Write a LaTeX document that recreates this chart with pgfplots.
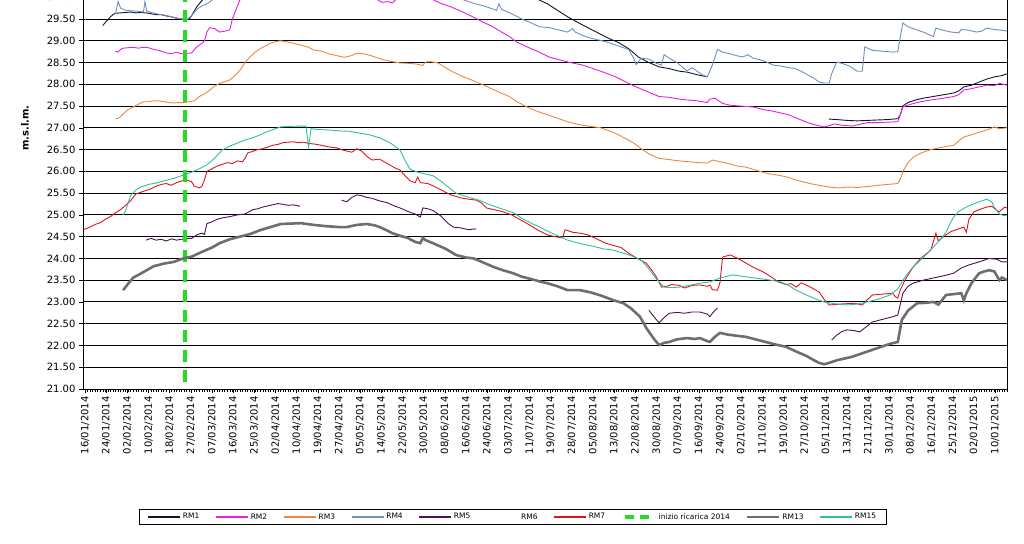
\documentclass[border=0pt]{standalone}
\usepackage{pgfplots}
\pgfplotsset{compat=1.18}
\usepackage{fontspec}
\setmainfont{DejaVu Sans}
\definecolor{rmone}{HTML}{14142E}
\definecolor{rmtwo}{HTML}{E81CE8}
\definecolor{rmthree}{HTML}{EE8840}
\definecolor{rmfour}{HTML}{6E8FBF}
\definecolor{rmfive}{HTML}{4A1450}
\definecolor{rmseven}{HTML}{E0141E}
\definecolor{rmthirteen}{HTML}{6E6E6E}
\definecolor{rmfifteen}{HTML}{2EC0A0}
\definecolor{ricarica}{HTML}{22DD22}
\begin{document}
\begin{tikzpicture}
\begin{axis}[
  at={(0pt,0pt)}, anchor=south west,
  scale only axis,
  width=924pt, height=435.3pt,
  xmin=-0.8, xmax=363, ymin=21, ymax=31,
  unbounded coords=jump,
  axis line style={black, line width=0.8pt},
  ytick={21,21.5,...,30.01},
  yticklabel style={/pgf/number format/.cd, fixed, fixed zerofill, precision=2},
  /pgf/number format/assume math mode=true,
  ymajorgrids,
  major grid style={black, line width=0.9pt},
  xtick={0,8.3333,...,358.5},
  xticklabels={16/01/2014,24/01/2014,02/02/2014,10/02/2014,18/02/2014,27/02/2014,07/03/2014,16/03/2014,25/03/2014,02/04/2014,10/04/2014,19/04/2014,27/04/2014,05/05/2014,14/05/2014,22/05/2014,30/05/2014,08/06/2014,16/06/2014,24/06/2014,03/07/2014,11/07/2014,19/07/2014,28/07/2014,05/08/2014,13/08/2014,22/08/2014,30/08/2014,07/09/2014,16/09/2014,24/09/2014,02/10/2014,11/10/2014,19/10/2014,27/10/2014,05/11/2014,13/11/2014,21/11/2014,30/11/2014,08/12/2014,16/12/2014,25/12/2014,02/01/2015,10/01/2015},
  minor xtick={0,1,...,363},
  xticklabel style={rotate=90, anchor=east},
  tick label style={font=\fontsize{10}{12}\selectfont},
  tick align=outside,
  major tick length=4pt, minor tick length=3pt,
  tick style={black, line width=0.6pt},
  xtick pos=bottom, ytick pos=left,
  ylabel={\textbf{m.s.l.m.}},
  ylabel style={at={(axis description cs:-0.0628,0.5996)}, anchor=center, font=\fontsize{10}{12}\selectfont},
  legend columns=10,
  legend image code/.code={\draw[#1] (0pt,0pt) -- (32pt,0pt);},
  legend style={at={(axis description cs:0.4654,-0.294)}, anchor=center, draw=black, line width=0.8pt,
    font=\fontsize{7.5}{9}\selectfont, inner xsep=8pt, inner ysep=2pt,
    /tikz/every even column/.append style={column sep=14pt}},
]
% RM1
\addplot[draw=rmone, line width=0.9pt, legend image post style={line width=1.1pt}] coordinates {
(7,29.35)(8,29.42)(9,29.48)(10,29.55)(11,29.6)(12,29.63)(14,29.64)(16,29.65)(18,29.66)(20,29.64)(22,29.65)(24,29.64)(26,29.62)(28,29.6)(30,29.6)(32,29.57)(34,29.55)(36,29.52)(38,29.5)(39.5,29.48)(41,29.5)(42,29.58)(43,29.68)(44,29.78)(45,29.85)(46,29.92)(47,29.98)(48,30.1)(50,30.3)
(172,30.2)(178,29.96)(182,29.85)(186,29.7)(190,29.55)(194,29.42)(198,29.3)(202,29.18)(206,29.06)(210,28.96)(214,28.82)(218,28.62)(222,28.5)(226,28.4)(230,28.36)(234,28.3)(237,28.28)(241,28.22)(245,28.17)
(245.5,nan)
(293,27.2)(296,27.19)(300,27.17)(304,27.16)(308,27.17)(312,27.18)(316,27.19)(320,27.21)(321,27.3)(322,27.5)(324,27.58)(327,27.64)(330,27.68)(334,27.72)(338,27.76)(342,27.8)(344,27.85)(346,27.94)(349,27.98)(352,28.05)(355,28.12)(358,28.17)(361,28.2)(363,28.24)
};
\addlegendentry{RM1}
% RM2
\addplot[draw=rmtwo, line width=0.9pt, legend image post style={line width=1.4pt}] coordinates {
(12,28.76)(13,28.74)(14,28.8)(15,28.83)(17,28.84)(19,28.85)(21,28.83)(23,28.85)(25,28.84)(27,28.8)(29,28.78)(31,28.74)(32,28.72)(34,28.7)(36,28.74)(38,28.7)(40,28.71)(42,28.72)(44,28.86)(46,28.94)(47,29.0)(48,29.2)(49,29.3)(51,29.28)(53,29.2)(55,29.22)(57,29.25)(58,29.5)(60,29.8)(61,29.94)(63,30.2)
(112,30.1)(115,29.95)(117,29.88)(119,29.9)(121,29.87)(123,29.98)(126,30.15)(132,30.1)(136,29.97)(140,29.86)(144,29.78)(148,29.68)(152,29.57)(157,29.42)(160,29.34)(164,29.2)(167,29.1)(170,28.97)(174,28.86)(178,28.76)(183,28.62)(187,28.56)(191,28.5)(196,28.44)(200,28.36)(204,28.28)(209,28.17)(213,28.05)(217,27.94)(221,27.84)(226,27.72)(230,27.7)(234,27.66)(237,27.64)(241,27.62)(245,27.58)(246,27.66)(248,27.68)(251,27.56)(254,27.52)(258,27.5)(263,27.48)(267,27.42)(271,27.38)(274,27.34)(277,27.3)(279,27.25)(282,27.18)(285,27.11)(288,27.06)(291,27.02)(293,27.05)(295,27.09)(298,27.06)(302,27.04)(305,27.08)(308,27.12)(312,27.12)(316,27.13)(320,27.14)(321,27.3)(322,27.48)(325,27.54)(329,27.6)(333,27.64)(338,27.68)(342,27.72)(344,27.76)(346,27.87)(349,27.9)(352,27.94)(355,27.98)(358,27.97)(360,28.02)(363,27.98)
};
\addlegendentry{RM2}
% RM3
\addplot[draw=rmthree, line width=0.9pt, legend image post style={line width=1.4pt}] coordinates {
(12,27.2)(13,27.22)(14,27.25)(15,27.32)(17,27.42)(19,27.48)(21,27.54)(23,27.6)(25,27.6)(27,27.62)(29,27.62)(31,27.6)(33,27.58)(35,27.57)(37,27.58)(39,27.58)(41,27.6)(43,27.62)(45,27.72)(47,27.78)(49,27.86)(51,27.96)(53,28.02)(55,28.06)(57,28.1)(59,28.2)(61,28.32)(63,28.5)(65,28.63)(67,28.74)(69,28.82)(71,28.88)(73,28.94)(75,28.98)(77,29.0)(79,28.98)(82,28.94)(85,28.9)(88,28.85)(90,28.79)(93,28.76)(96,28.7)(99,28.66)(102,28.62)(105,28.66)(107,28.71)(110,28.7)(113,28.65)(117,28.57)(120,28.53)(124,28.49)(128,28.48)(131,28.46)(133,28.43)(134,28.51)(136,28.52)(139,28.49)(142,28.38)(145,28.28)(149,28.17)(153,28.08)(157,27.98)(160,27.9)(163,27.82)(167,27.72)(170,27.6)(174,27.48)(178,27.38)(182,27.3)(186,27.22)(190,27.14)(194,27.08)(198,27.04)(203,27.0)(207,26.92)(210,26.84)(213,26.75)(216,26.65)(219,26.52)(222,26.4)(226,26.3)(230,26.27)(234,26.24)(238,26.22)(242,26.2)(245,26.19)(247,26.26)(250,26.22)(254,26.17)(257,26.12)(260,26.1)(264,26.03)(268,25.96)(271,25.93)(274,25.9)(277,25.86)(280,25.8)(284,25.74)(287,25.7)(291,25.66)(294,25.63)(297,25.62)(300,25.64)(304,25.63)(308,25.65)(312,25.68)(316,25.7)(320,25.72)(321,25.82)(322,26.0)(324,26.2)(326,26.32)(329,26.42)(333,26.5)(338,26.56)(342,26.6)(344,26.7)(346,26.79)(349,26.84)(352,26.9)(355,26.95)(358,27.02)(360,26.98)(363,27.0)
};
\addlegendentry{RM3}
% RM4
\addplot[draw=rmfour, line width=0.9pt, legend image post style={line width=1.2pt}] coordinates {
(12,29.62)(13,29.9)(14,29.75)(16,29.7)(20,29.68)(23,29.66)(23.6,29.9)(24.3,29.68)(26,29.65)(28,29.62)(30,29.6)(32,29.58)(34,29.55)(36,29.52)(38,29.5)(40,29.48)(42,29.58)(44,29.72)(46,29.8)(48,29.85)(50,29.93)(52,30.1)(55,30.3)
(145,30.2)(149,29.94)(153,29.86)(157,29.8)(160,29.74)(162,29.7)(163,29.85)(164,29.72)(168,29.62)(172,29.5)(176,29.4)(179,29.32)(183,29.3)(187,29.24)(190,29.2)(192,29.28)(193,29.2)(196,29.12)(199,29.06)(202,29.02)(205,28.98)(209,28.9)(212,28.84)(214,28.8)(216,28.6)(217,28.45)(219,28.6)(222,28.58)(225,28.48)(227,28.44)(228,28.68)(230,28.6)(233,28.5)(237,28.31)(239,28.38)(241,28.3)(243,28.22)(245,28.17)(247,28.44)(249,28.8)(251,28.74)(254,28.7)(257,28.65)(259,28.63)(261,28.68)(263,28.6)(266,28.56)(268,28.52)(271,28.44)(274,28.42)(277,28.38)(279,28.37)(282,28.3)(285,28.2)(287,28.14)(289,28.05)(291,28.03)(293,28.03)(294,28.25)(296,28.51)(298,28.48)(301,28.42)(304,28.3)(306,28.3)(307,28.86)(310,28.78)(314,28.76)(318,28.74)(320,28.75)(321,29.1)(322,29.41)(324,29.32)(327,29.26)(330,29.2)(333,29.12)(334,29.1)(335,29.29)(338,29.24)(341,29.2)(344,29.18)(345,29.26)(348,29.24)(351,29.2)(353,29.22)(355,29.29)(358,29.26)(361,29.24)(363,29.22)
};
\addlegendentry{RM4}
% RM5
\addplot[draw=rmfive, line width=0.9pt, legend image post style={line width=1.1pt}] coordinates {
(24,24.42)(26,24.46)(28,24.42)(30,24.44)(32,24.4)(34,24.45)(36,24.42)(38,24.44)(40,24.46)(42,24.46)(44,24.54)(46,24.58)(47,24.55)(48,24.8)(50,24.84)(52,24.9)(54,24.93)(57,24.96)(60,25.0)(63,25.02)(66,25.12)(68,25.14)(70,25.18)(73,25.22)(76,25.26)(78,25.24)(80,25.22)(82,25.23)(84.6,25.2)
(90,nan)
(101,25.34)(103,25.3)(105,25.4)(107,25.46)(109,25.44)(111,25.4)(113,25.38)(116,25.32)(119,25.28)(122,25.2)(124,25.16)(127,25.08)(130,25.02)(132,24.95)(133,25.16)(135,25.14)(137,25.1)(140,24.98)(143,24.8)(145,24.72)(148,24.7)(151,24.66)(154,24.68)
(160,nan)
(222,22.81)(224,22.66)(226,22.52)(228,22.64)(230,22.74)(233,22.76)(236,22.74)(239,22.77)(242,22.77)(245,22.72)(246,22.66)(247,22.74)(249,22.86)
(260,nan)
(294,22.13)(296,22.24)(298,22.32)(300,22.36)(303,22.34)(305,22.31)(308,22.45)(310,22.54)(314,22.6)(318,22.66)(320,22.7)(321,22.95)(322,23.2)(324,23.36)(326,23.43)(330,23.5)(334,23.55)(338,23.6)(342,23.66)(345,23.78)(348,23.85)(352,23.92)(356,24.0)(359,23.98)(361,23.92)(363,23.92)
};
\addlegendentry{RM5}
\addlegendimage{draw=white}
\addlegendentry{RM6}
% RM7
\addplot[draw=rmseven, line width=0.9pt, legend image post style={line width=1.2pt}] coordinates {
(-1,24.65)(2,24.72)(4,24.78)(6,24.82)(8,24.9)(10,24.96)(12,25.05)(14,25.12)(16,25.22)(18,25.33)(20,25.48)(22,25.52)(24,25.56)(26,25.6)(28,25.66)(30,25.7)(32,25.72)(34,25.68)(36,25.74)(38,25.78)(40,25.8)(42,25.76)(43,25.66)(45,25.62)(46,25.66)(47,25.8)(48,26.0)(50,26.06)(52,26.12)(54,26.16)(56,26.2)(58,26.18)(60,26.24)(62,26.22)(63,26.3)(64,26.42)(66,26.46)(68,26.5)(70,26.52)(72,26.56)(74,26.6)(76,26.62)(78,26.66)(80,26.67)(82,26.68)(84,26.66)(86,26.67)(88,26.64)(90,26.63)(93,26.6)(96,26.56)(99,26.54)(102,26.48)(105,26.44)(107,26.52)(109,26.46)(111,26.34)(113,26.26)(116,26.28)(119,26.18)(122,26.08)(124,26.03)(126,25.9)(128,25.78)(130,25.74)(131,25.87)(132,25.74)(135,25.72)(138,25.64)(141,25.55)(144,25.46)(148,25.39)(151,25.36)(154,25.34)(156,25.28)(158,25.16)(161,25.12)(164,25.08)(168,25.0)(171,24.9)(175,24.77)(178,24.66)(182,24.54)(185,24.5)(188,24.47)(189,24.66)(192,24.6)(195,24.58)(198,24.54)(201,24.46)(205,24.35)(208,24.3)(211,24.25)(214,24.12)(218,23.98)(221,23.89)(223,23.74)(225,23.57)(227,23.34)(229,23.36)(231,23.4)(234,23.38)(236,23.32)(239,23.38)(242,23.39)(245,23.36)(246,23.39)(247,23.28)(249,23.27)(250,23.45)(251,24.03)(254,24.08)(257,24.0)(260,23.9)(263,23.8)(267,23.69)(270,23.58)(273,23.46)(276,23.4)(278,23.42)(280,23.34)(282,23.44)(285,23.36)(289,23.23)(291,23.06)(293,22.93)(297,22.95)(300,22.96)(303,22.97)(306,22.93)(308,23.05)(310,23.16)(314,23.18)(318,23.2)(319,23.12)(320,23.09)(321,23.28)(323,23.52)(326,23.8)(329,24.0)(333,24.19)(335,24.58)(336,24.4)(338,24.5)(341,24.62)(344,24.68)(346,24.72)(347,24.6)(348,24.9)(350,25.07)(353,25.14)(355,25.18)(357,25.2)(359,25.1)(360,25.07)(362,25.18)(363,25.16)
};
\addlegendentry{RM7}
% inizio ricarica
\addplot[draw=ricarica, line width=3.5pt, dash pattern=on 12pt off 8pt, legend image post style={dash pattern=on 9pt off 6pt, dash phase=-2pt}] coordinates {(39.4,21.15)(39.4,31)};
\addlegendentry{inizio ricarica 2014}
% RM13
\addplot[draw=rmthirteen, line width=2.6pt] coordinates {
(15,23.27)(17,23.42)(19,23.56)(21,23.62)(24,23.72)(27,23.82)(31,23.88)(35,23.92)(38.6,24.0)(42,24.04)(46,24.15)(50,24.25)(53,24.35)(57,24.44)(61,24.5)(65,24.56)(69,24.65)(73,24.72)(77,24.79)(81,24.8)(85,24.81)(90,24.77)(95,24.74)(100,24.72)(103,24.72)(107,24.77)(111,24.79)(114,24.76)(116,24.72)(119,24.64)(121,24.58)(124,24.52)(127,24.47)(130,24.38)(132,24.35)(133,24.47)(134,24.42)(137,24.35)(142,24.22)(146,24.08)(150,24.02)(153,24.0)(157,23.9)(161,23.8)(165,23.72)(168.5,23.66)(172,23.58)(176,23.52)(179,23.47)(182,23.43)(186,23.36)(190,23.27)(195,23.27)(199,23.22)(203,23.15)(208,23.04)(212,22.97)(215,22.85)(218.5,22.66)(221,22.4)(224,22.15)(226,22.01)(228,22.06)(230,22.08)(233,22.14)(237,22.17)(240,22.15)(242,22.17)(245,22.1)(246,22.08)(248,22.2)(250,22.29)(253,22.25)(257,22.22)(260,22.2)(264,22.14)(268,22.08)(272,22.02)(276,21.97)(280,21.86)(284,21.76)(287,21.66)(289,21.6)(291,21.57)(293,21.6)(296,21.66)(299,21.7)(302,21.74)(305,21.8)(308,21.86)(310,21.9)(314,21.98)(317,22.04)(320,22.08)(321.6,22.59)(324,22.8)(327.6,22.97)(331,22.98)(334,23.0)(336,22.94)(339,23.16)(342,23.18)(345,23.2)(346,23.04)(347,23.2)(349,23.43)(352,23.66)(354,23.7)(356,23.73)(358,23.7)(360,23.5)(361,23.56)(363,23.5)
};
\addlegendentry{RM13}
% RM15
\addplot[draw=rmfifteen, line width=0.9pt, legend image post style={line width=1.3pt}] coordinates {
(15,25.0)(16,25.1)(17,25.28)(18,25.45)(20,25.57)(22,25.64)(25,25.7)(28,25.73)(31,25.78)(35,25.84)(39,25.92)(42,25.98)(45,26.06)(48,26.15)(51,26.3)(54,26.49)(57,26.58)(60,26.65)(63,26.72)(66,26.77)(69,26.84)(72,26.92)(75,26.98)(77,27.02)(80,27.03)(84,27.04)(87,27.04)(88,26.56)(89,26.98)(92,26.96)(96,26.95)(100,26.93)(104,26.92)(108,26.88)(112,26.84)(116,26.77)(120,26.66)(124,26.49)(126,26.25)(128,26.05)(131,25.98)(134,25.94)(137,25.9)(140,25.78)(143,25.64)(146,25.5)(150,25.42)(155,25.34)(160,25.22)(165,25.12)(169,25.04)(172,24.92)(176,24.8)(179,24.72)(183,24.6)(187,24.5)(190,24.42)(195,24.34)(200,24.28)(204,24.22)(208,24.19)(212,24.12)(216,24.04)(219,23.96)(222,23.76)(225,23.52)(228,23.34)(231,23.33)(234,23.34)(238,23.38)(242,23.43)(246,23.46)(250,23.55)(255,23.62)(260,23.58)(265,23.54)(270,23.5)(274,23.46)(277,23.38)(280,23.27)(284,23.16)(288,23.06)(291,23.0)(295,22.96)(300,22.93)(304,22.95)(308,23.0)(312,23.06)(317,23.16)(320,23.3)(322,23.5)(324,23.66)(326,23.8)(330,24.02)(334,24.26)(337,24.45)(339,24.6)(341,24.85)(342,24.95)(344,25.08)(347,25.18)(351,25.28)(355,25.36)(357,25.3)(358,25.18)(360,25.02)(362,24.98)(363,25.0)
};
\addlegendentry{RM15}
\end{axis}
\pgfresetboundingbox
\useasboundingbox (-83pt,-154pt) rectangle (941pt,389pt);
\end{tikzpicture}
\end{document}
